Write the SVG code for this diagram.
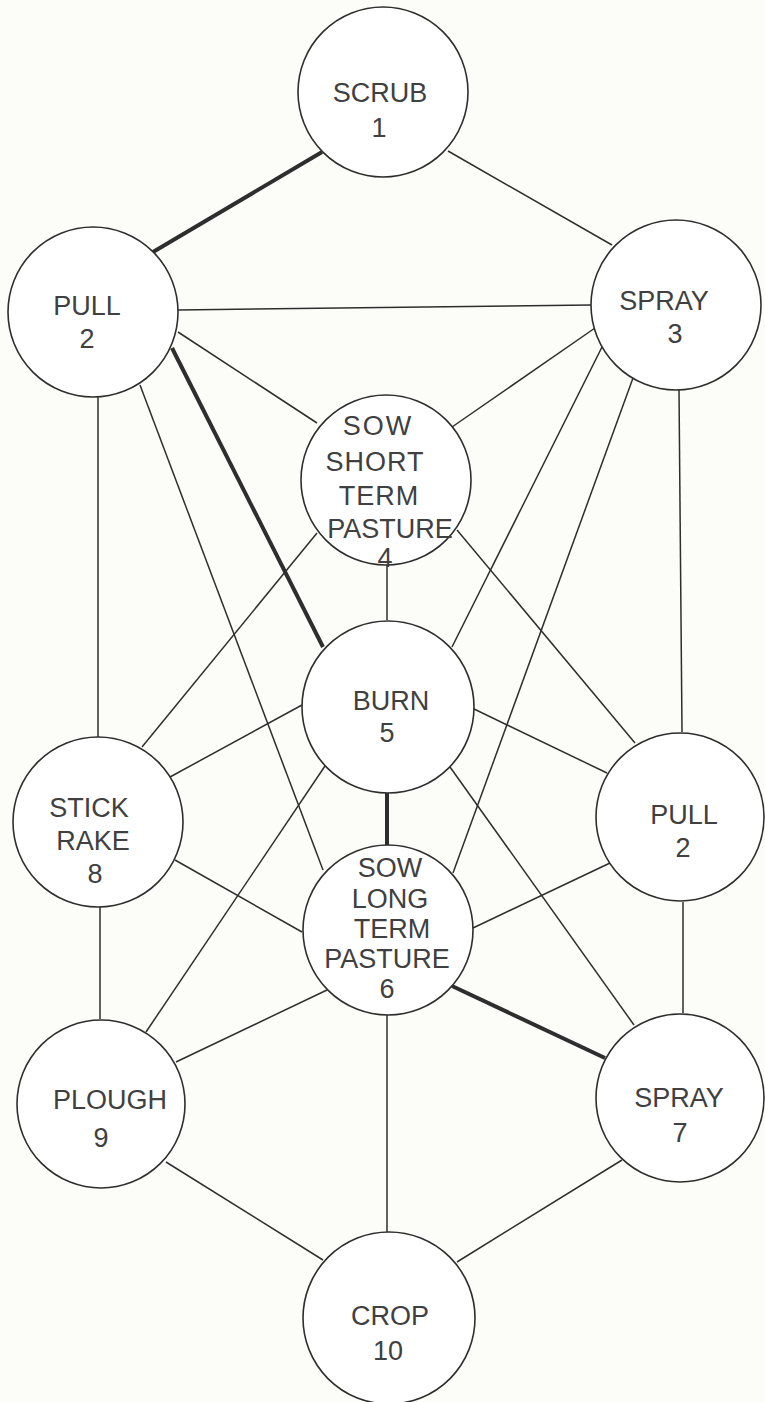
<svg xmlns="http://www.w3.org/2000/svg" width="765" height="1402" viewBox="0 0 765 1402">
<style>
.bg{fill:#fcfcf9}
.n{fill:#ffffff;stroke:#2e2e2e;stroke-width:1.6}
.e{stroke:#2e2e2e;stroke-width:1.5;fill:none}
.t{stroke:#2e2e2e;stroke-width:4;fill:none}
text{font-family:"Liberation Sans",Arial,sans-serif;font-size:27px;fill:#404040;text-anchor:middle}
</style>
<rect class="bg" x="0" y="0" width="765" height="1402"/>
<g id="connectors">
<line class="t" x1="153" y1="252" x2="322" y2="152"/>
<line class="e" x1="448" y1="151" x2="612" y2="245"/>
<line class="e" x1="178" y1="310" x2="591" y2="305"/>
<line class="e" x1="178" y1="332" x2="317" y2="423"/>
<line class="t" x1="172" y1="348" x2="323" y2="647"/>
<line class="e" x1="98" y1="397" x2="98" y2="737"/>
<line class="e" x1="140" y1="385" x2="323" y2="870"/>
<line class="e" x1="595" y1="328" x2="452" y2="427"/>
<line class="e" x1="602" y1="347" x2="452" y2="647"/>
<line class="e" x1="633" y1="378" x2="453" y2="873"/>
<line class="e" x1="679" y1="390" x2="682" y2="732"/>
<line class="e" x1="387" y1="565" x2="387" y2="620"/>
<line class="e" x1="317" y1="533" x2="142" y2="747"/>
<line class="e" x1="457" y1="530" x2="635" y2="743"/>
<line class="e" x1="302" y1="705" x2="170" y2="777"/>
<line class="e" x1="472" y1="708" x2="607" y2="773"/>
<line class="t" x1="387" y1="793" x2="387" y2="846"/>
<line class="e" x1="327" y1="763" x2="146" y2="1032"/>
<line class="e" x1="450" y1="767" x2="634" y2="1025"/>
<line class="e" x1="175" y1="860" x2="302" y2="932"/>
<line class="e" x1="100" y1="907" x2="100" y2="1019"/>
<line class="e" x1="610" y1="863" x2="473" y2="928"/>
<line class="e" x1="683" y1="902" x2="683" y2="1013"/>
<line class="e" x1="327" y1="990" x2="176" y2="1062"/>
<line class="t" x1="452" y1="986" x2="605" y2="1058"/>
<line class="e" x1="387" y1="1015" x2="387" y2="1232"/>
<line class="e" x1="166" y1="1162" x2="323" y2="1260"/>
<line class="e" x1="622" y1="1160" x2="457" y2="1262"/>
</g>
<g id="n1"><circle class="n" cx="383" cy="92" r="85"/><text x="380" y="102">SCRUB</text><text x="379" y="137">1</text></g>
<g id="n2a"><circle class="n" cx="93" cy="312" r="85"/><text x="87" y="315">PULL</text><text x="87" y="348">2</text></g>
<g id="n3"><circle class="n" cx="676" cy="305" r="85"/><text x="664" y="310">SPRAY</text><text x="675" y="343">3</text></g>
<g id="n4"><circle class="n" cx="386" cy="480" r="85"/><text x="378" y="435" letter-spacing="2">SOW</text><text x="375" y="471" letter-spacing="1">SHORT</text><text x="379" y="505" letter-spacing="1">TERM</text><text x="390" y="538">PASTURE</text><text x="385" y="567" font-size="24">4</text></g>
<g id="n5"><circle class="n" cx="388" cy="707" r="86"/><text x="391" y="710">BURN</text><text x="387" y="742">5</text></g>
<g id="n8"><circle class="n" cx="98" cy="822" r="85"/><text x="89" y="817">STICK</text><text x="93" y="850">RAKE</text><text x="95" y="883">8</text></g>
<g id="n2b"><circle class="n" cx="680" cy="817" r="84"/><text x="684" y="824">PULL</text><text x="683" y="857">2</text></g>
<g id="n6"><circle class="n" cx="388" cy="930" r="85"/><text x="390" y="877">SOW</text><text x="390" y="908">LONG</text><text x="392" y="938">TERM</text><text x="387" y="968">PASTURE</text><text x="387" y="998">6</text></g>
<g id="n9"><circle class="n" cx="101" cy="1104" r="84"/><text x="110" y="1109" font-size="25">PLOUGH</text><text x="101" y="1147">9</text></g>
<g id="n7"><circle class="n" cx="680" cy="1098" r="84"/><text x="679" y="1107" font-size="26">SPRAY</text><text x="680" y="1142">7</text></g>
<g id="n10"><circle class="n" cx="389" cy="1318" r="86"/><text x="390" y="1325">CROP</text><text x="388" y="1360">10</text></g>
</svg>
